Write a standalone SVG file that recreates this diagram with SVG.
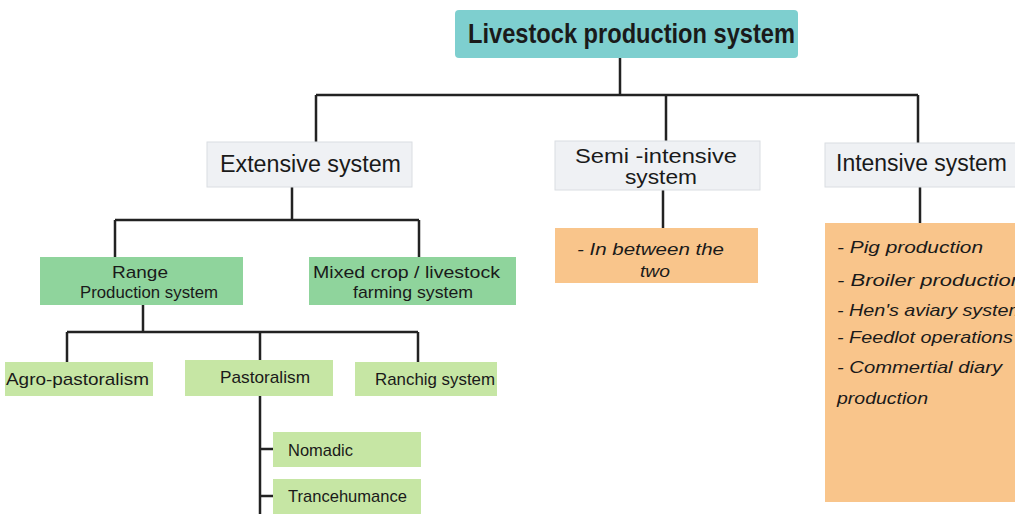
<svg xmlns="http://www.w3.org/2000/svg" width="1015" height="514" viewBox="0 0 1015 514">
<style>
text{font-family:"Liberation Sans",Arial,sans-serif;fill:#1a1a1a}
.t1{font-size:27px;font-weight:bold}
.t2{font-size:23px}
.t2s{font-size:20px}
.t3{font-size:17px}
.it{font-size:17px;font-style:italic}
.teal{fill:#7ecfcf}
.gray{fill:#eff1f4;stroke:#dadde2;stroke-width:1}
.green{fill:#8fd49c}
.lgreen{fill:#c6e6a4}
.orange{fill:#f9c58b}
.ln{stroke:#222;stroke-width:2.5;fill:none}
</style>
<rect width="1015" height="514" fill="#ffffff"/>
<g id="connectors">
<path class="ln" d="M620 58V95M316 95H918M316 95V142M666 95V141M918 95V143"/>
<path class="ln" d="M292 187V220M115 220H419M115 220V257M419 220V257"/>
<path class="ln" d="M663 190V228"/>
<path class="ln" d="M920 187V223"/>
<path class="ln" d="M143 305V332M67 332H418M67 332V362M260 332V360M418 332V362"/>
<path class="ln" d="M260 396V514M259 449H273M259 496H273"/>
</g>
<g id="root"><rect class="teal" x="455" y="10" width="343" height="48" rx="4"/><text class="t1" x="468" y="43" textLength="327" lengthAdjust="spacingAndGlyphs">Livestock production system</text></g>
<g id="extensive"><rect class="gray" x="207" y="142" width="205" height="45"/><text class="t2" x="220" y="172" textLength="181" lengthAdjust="spacingAndGlyphs">Extensive system</text></g>
<g id="semi"><rect class="gray" x="555" y="141" width="205" height="49"/><text class="t2s" x="575" y="163" textLength="162" lengthAdjust="spacingAndGlyphs">Semi -intensive</text><text class="t2s" x="625" y="184" textLength="72" lengthAdjust="spacingAndGlyphs">system</text></g>
<g id="intensive"><rect class="gray" x="825" y="143" width="195" height="44"/><text class="t2" x="836" y="171" textLength="171" lengthAdjust="spacingAndGlyphs">Intensive system</text></g>
<g id="semi-note"><rect class="orange" x="555" y="228" width="203" height="55"/><text class="it" x="577" y="255" textLength="147" lengthAdjust="spacingAndGlyphs">- In between the</text><text class="it" x="640" y="277" textLength="30" lengthAdjust="spacingAndGlyphs">two</text></g>
<g id="intensive-note"><rect class="orange" x="825" y="223" width="195" height="279"/>
<text class="it" x="837" y="253" textLength="146" lengthAdjust="spacingAndGlyphs">- Pig production</text>
<text class="it" x="837" y="286" textLength="186" lengthAdjust="spacingAndGlyphs">- Broiler production</text>
<text class="it" x="837" y="316" textLength="188" lengthAdjust="spacingAndGlyphs">- Hen's aviary system</text>
<text class="it" x="837" y="343" textLength="176" lengthAdjust="spacingAndGlyphs">- Feedlot operations</text>
<text class="it" x="837" y="373" textLength="165" lengthAdjust="spacingAndGlyphs">- Commertial diary</text>
<text class="it" x="837" y="404" textLength="91" lengthAdjust="spacingAndGlyphs">production</text></g>
<g id="range"><rect class="green" x="40" y="257" width="203" height="48"/><text class="t3" x="112" y="278" textLength="56" lengthAdjust="spacingAndGlyphs">Range</text><text class="t3" x="80" y="298" textLength="138" lengthAdjust="spacingAndGlyphs">Production system</text></g>
<g id="mixed"><rect class="green" x="309" y="257" width="207" height="48"/><text class="t3" x="313" y="278" textLength="187" lengthAdjust="spacingAndGlyphs">Mixed crop / livestock</text><text class="t3" x="353" y="298" textLength="120" lengthAdjust="spacingAndGlyphs">farming system</text></g>
<g id="agro"><rect class="lgreen" x="5" y="362" width="148" height="34"/><text class="t3" x="6" y="385" textLength="143" lengthAdjust="spacingAndGlyphs">Agro-pastoralism</text></g>
<g id="pastoralism"><rect class="lgreen" x="185" y="360" width="148" height="36"/><text class="t3" x="220" y="383" textLength="90" lengthAdjust="spacingAndGlyphs">Pastoralism</text></g>
<g id="ranchig"><rect class="lgreen" x="355" y="362" width="142" height="34"/><text class="t3" x="375" y="385" textLength="120" lengthAdjust="spacingAndGlyphs">Ranchig system</text></g>
<g id="nomadic"><rect class="lgreen" x="273" y="432" width="148" height="35"/><text class="t3" x="288" y="456" textLength="65" lengthAdjust="spacingAndGlyphs">Nomadic</text></g>
<g id="trancehumance"><rect class="lgreen" x="273" y="479" width="148" height="40"/><text class="t3" x="288" y="502" textLength="119" lengthAdjust="spacingAndGlyphs">Trancehumance</text></g>
</svg>
